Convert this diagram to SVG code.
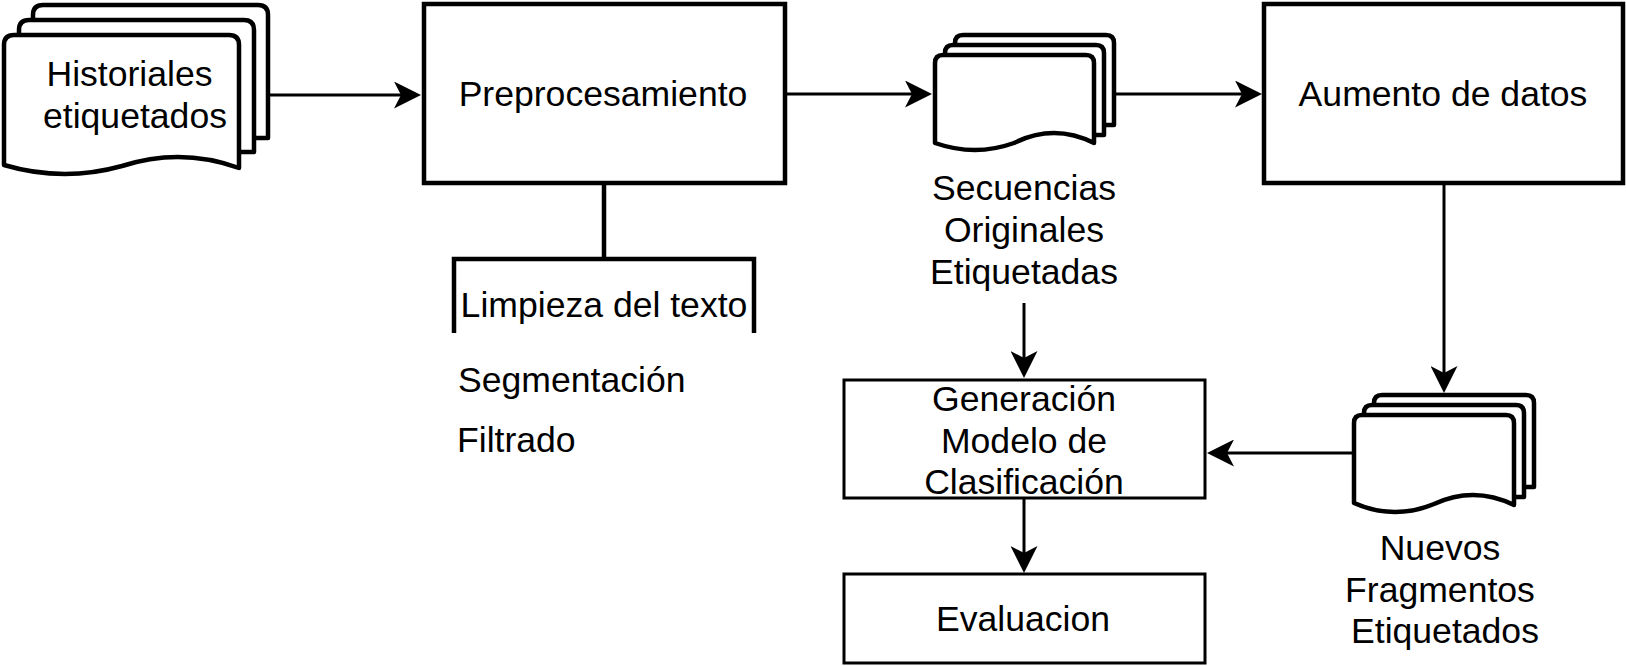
<svg xmlns="http://www.w3.org/2000/svg" width="1626" height="666" viewBox="0 0 1626 666">
<style>
text{font-family:"Liberation Sans",Arial,sans-serif;font-size:35.6px;fill:#000}
.c{text-anchor:middle}
.box{fill:#fff;stroke:#000;stroke-width:4.5}
.thin{fill:#fff;stroke:#000;stroke-width:3}
.pg{fill:#fff;stroke:#000;stroke-width:4.5;stroke-linejoin:round}
.ln{fill:none;stroke:#000;stroke-width:3}
.br{fill:none;stroke:#000;stroke-width:4.5}
</style>
<defs>
<marker id="ah" markerUnits="userSpaceOnUse" markerWidth="27" markerHeight="27" viewBox="0 0 27 27" refX="7" refY="13.5" orient="auto"><path d="M0,0 L27,13.5 L0,27 L7,13.5 Z" fill="#000"/></marker>
</defs>
<rect width="1626" height="666" fill="#fff"/>
<g id="connectors">
<path class="ln" d="M268,95 H401" marker-end="url(#ah)"/>
<path class="ln" d="M787,94 H912" marker-end="url(#ah)"/>
<path class="ln" d="M1116,94 H1242" marker-end="url(#ah)"/>
<path class="ln" d="M1444,185 V373" marker-end="url(#ah)"/>
<path class="ln" d="M1352,453 H1227" marker-end="url(#ah)"/>
<path class="ln" d="M1024,303 V358" marker-end="url(#ah)"/>
<path class="ln" d="M1024,499 V553" marker-end="url(#ah)"/>
<path class="br" d="M604,185 V259"/>
</g>
<g id="historiales">
<path class="pg" d="M33,20 L33,15 Q33,5 43,5 L258,5 Q268,5 268,15 L268,138 L254,138"/>
<path class="pg" d="M19,35 L19,30 Q19,20 29,20 L244,20 Q254,20 254,30 L254,152 L239,152"/>
<path class="pg" d="M4,165 L4,45 Q4,35 14,35 L229,35 Q239,35 239,45 L239,168 Q181,147 122,166 Q63,182.5 4,165 Z"/>
<text class="c" x="129.5" y="86">Historiales</text>
<text class="c" x="135" y="128">etiquetados</text>
</g>
<g id="preprocesamiento">
<rect class="box" x="424" y="4" width="361" height="179"/>
<text class="c" x="603" y="106">Preprocesamiento</text>
</g>
<g id="limpieza">
<path class="br" d="M454,333 V259 H754 V333"/>
<text class="c" x="604" y="317">Limpieza del texto</text>
<text x="458" y="392">Segmentación</text>
<text x="457" y="452">Filtrado</text>
</g>
<g id="secuencias">
<path class="pg" d="M955,45 L955,43 Q955,35 963,35 L1106,35 Q1114,35 1114,43 L1114,125 L1104,125"/>
<path class="pg" d="M945,55 L945,53 Q945,45 953,45 L1096,45 Q1104,45 1104,53 L1104,135 L1094,135"/>
<path class="pg" d="M935,143 L935,63 Q935,55 943,55 L1086,55 Q1094,55 1094,63 L1094,143 Q1054,123 1014,143 Q975,157 935,143 Z"/>
<text class="c" x="1024" y="200">Secuencias</text>
<text class="c" x="1024" y="242">Originales</text>
<text class="c" x="1024" y="284">Etiquetadas</text>
</g>
<g id="aumento">
<rect class="box" x="1264" y="4" width="359" height="179"/>
<text class="c" x="1443" y="106">Aumento de datos</text>
</g>
<g id="nuevos">
<path class="pg" d="M1374,405 L1374,403 Q1374,395 1382,395 L1526,395 Q1534,395 1534,403 L1534,487 L1524,487"/>
<path class="pg" d="M1364,415 L1364,413 Q1364,405 1372,405 L1516,405 Q1524,405 1524,413 L1524,497 L1514,497"/>
<path class="pg" d="M1354,503 L1354,423 Q1354,415 1362,415 L1506,415 Q1514,415 1514,423 L1514,505 Q1474,485.5 1434,504 Q1394,520.5 1354,503 Z"/>
<text class="c" x="1440" y="560">Nuevos</text>
<text class="c" x="1440" y="602">Fragmentos</text>
<text class="c" x="1445" y="643">Etiquetados</text>
</g>
<g id="generacion">
<rect class="thin" x="844" y="380" width="361" height="118"/>
<text class="c" x="1024" y="411">Generación</text>
<text class="c" x="1024" y="453">Modelo de</text>
<text class="c" x="1024" y="494">Clasificación</text>
</g>
<g id="evaluacion">
<rect class="thin" x="844" y="574" width="361" height="89"/>
<text class="c" x="1023" y="631">Evaluacion</text>
</g>
</svg>
